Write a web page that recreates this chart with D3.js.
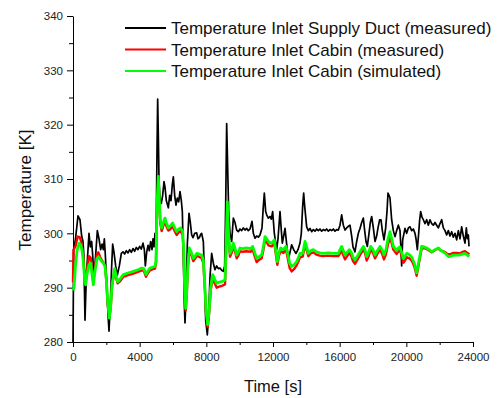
<!DOCTYPE html>
<html>
<head>
<meta charset="utf-8">
<script src="https://cdn.jsdelivr.net/npm/d3@7"></script>
<style>
  body { margin: 0; background: #fff; }
  svg { display: block; font-family: "Liberation Sans", Arial, sans-serif; }
</style>
</head>
<body>
<div id="chart"></div>
<script>
// [time s, temperature K]
const ductMeasured = [
  [0,280],[40,297],[150,299],[300,303.2],[420,302.5],[520,299.5],[600,298.5],[650,296],[720,284],[800,292],
  [900,297],[960,300],[1040,297.5],[1120,298.5],[1180,296],[1260,292],[1360,296],[1460,300.5],[1560,299],[1660,297],
  [1740,298],[1820,297],[1880,299],[1940,296],[2020,291],[2100,285],[2160,282],[2240,287],[2320,294],[2380,298],
  [2460,296.5],[2560,294],[2660,292.3],[2780,294],[2900,296.3],[3000,296.6],[3100,296.2],[3200,296.8],[3300,296.4],[3400,297],
  [3500,296.5],[3600,297.2],[3700,296.7],[3800,297.4],[3900,297],[4000,297.6],[4100,297.1],[4200,298.2],[4280,297],[4340,294],
  [4420,296.5],[4500,297.8],[4580,296.8],[4660,298.5],[4740,297],[4800,299],[4860,297.5],[4920,300],[4980,298],[5040,315],
  [5080,324.7],[5120,318],[5160,310],[5220,306],[5300,305.5],[5380,307],[5460,309.5],[5520,308.5],[5600,306],[5720,304.7],
  [5800,307],[5880,306],[5960,309],[6020,310.4],[6100,307],[6180,305.2],[6260,306.5],[6340,305.8],[6420,307.7],[6500,306],
  [6560,304],[6620,296],[6680,287],[6720,283.5],[6780,288],[6860,298],[6960,303.7],[7040,302],[7120,299.7],[7200,299.2],
  [7300,300],[7420,300.1],[7500,299],[7580,299.2],[7660,299.8],[7720,300],[7820,298.5],[7880,293],[7960,284],[8060,281.3],
  [8140,285],[8220,292],[8320,296.3],[8420,294.5],[8520,293.3],[8620,294],[8720,293.5],[8820,293.6],[8920,293.2],[9020,293],
  [9100,294],[9160,305],[9220,320.2],[9280,312],[9340,304],[9420,300],[9520,298.5],[9620,302.8],[9720,302],[9820,300.6],
  [9920,300.3],[10020,300.8],[10120,300.5],[10220,301],[10320,300.6],[10420,300.9],[10520,300.5],[10620,300.8],[10740,302.2],[10820,300],
  [10920,299.1],[11020,299.5],[11120,299.3],[11220,299.7],[11340,301],[11420,305],[11480,307.4],[11560,304],[11620,303.4],[11720,302.8],
  [11820,303.1],[11900,302.6],[11980,304],[12080,300],[12220,297],[12300,299],[12420,304],[12500,300.5],[12560,298.2],[12640,299.5],
  [12720,300.9],[12820,298],[12920,295.1],[13020,296.5],[13120,297.9],[13240,297],[13380,296.3],[13500,297],[13620,298.2],[13700,300],
  [13780,305],[13840,307.4],[13900,305],[14020,301.2],[14120,300.5],[14220,300.9],[14320,300.3],[14420,300.7],[14520,300.4],[14620,300.8],
  [14720,300.5],[14820,300.8],[14920,300.4],[15020,300.7],[15120,300.5],[15220,300.8],[15320,300.4],[15420,300.7],[15520,300.5],[15620,300.8],
  [15720,300.4],[15820,300.7],[15920,300.6],[16020,301.5],[16120,303.4],[16220,301.5],[16320,300.6],[16420,301],[16520,301.3],[16620,301.5],
  [16720,299.5],[16800,297.5],[16920,296.6],[17020,298.5],[17120,300],[17220,300.9],[17320,302],[17420,302.8],[17500,300.5],[17580,298.5],
  [17660,297.6],[17760,300],[17840,302],[17920,303.1],[18020,301],[18120,298.5],[18220,299.5],[18300,301],[18400,302.5],[18480,302.5],
  [18560,300.5],[18660,298.8],[18760,301],[18840,304],[18900,307.4],[18960,307],[19020,306.5],[19120,302.5],[19220,300.5],[19320,299.4],
  [19420,300.5],[19520,301.5],[19620,300.5],[19680,297],[19720,294],[19780,298.8],[19860,300],[19920,300.9],[20020,300],[20120,301],
  [20220,301.2],[20320,300.5],[20420,300.8],[20520,300],[20580,299],[20660,297],[20740,300],[20800,302.5],[20860,304],[20940,303],
  [21020,302.5],[21120,301.8],[21220,302.5],[21320,301.5],[21420,302.5],[21520,301.8],[21620,301.5],[21720,302],[21820,301.5],[21920,301],
  [22020,301.8],[22120,302.5],[22220,301],[22320,300.5],[22420,299.7],[22520,300.5],[22620,299.5],[22720,300.3],[22820,299.3],[22920,300],
  [23020,298.8],[23120,300.5],[23220,299],[23320,301.2],[23420,299.5],[23520,298.2],[23600,301],[23660,299],[23720,299.7],[23760,297.6]
];

const cabinMeasured = [
  [0,291],[30,297],[150,297.6],[280,299.4],[400,299.3],[480,298.6],[560,297],[620,295.6],[700,292],[760,290.8],
  [840,293.4],[960,295.8],[1060,295.5],[1140,293],[1220,291],[1320,293.6],[1440,296.2],[1520,296.5],[1620,295.7],[1720,295.1],
  [1820,294.6],[1920,294],[2000,291.3],[2080,287],[2180,284.6],[2260,286.2],[2340,290.2],[2420,291.7],[2500,293.1],[2580,291.9],
  [2680,290.8],[2800,291.1],[3020,292],[3300,292.3],[3620,292.6],[3900,292.9],[4120,293.2],[4250,293.1],[4380,292],[4480,292.6],
  [4620,293.2],[4800,293.4],[4920,293.5],[4980,294.5],[5040,304],[5120,309.5],[5180,305],[5240,301.8],[5320,300.4],[5420,301.4],
  [5520,302.2],[5620,301.2],[5720,300.5],[5820,300.7],[5980,301.3],[6100,300.4],[6220,299.7],[6340,300.2],[6460,300.4],[6580,299.7],
  [6640,296.5],[6700,289.5],[6760,285.8],[6820,288.5],[6900,294],[6980,296.8],[7100,296],[7220,294.9],[7320,295.3],[7420,295.8],
  [7560,295.7],[7720,295.4],[7820,294.5],[7900,290.5],[7980,285.5],[8080,282.8],[8160,285],[8260,289.4],[8380,291.7],[8500,290.8],
  [8620,290],[8760,290.2],[8920,290.3],[9120,290.6],[9180,296],[9260,304.5],[9330,299.4],[9420,295.7],[9520,296.4],[9620,297.6],
  [9720,296.7],[9820,295.4],[9920,295.9],[10020,296.7],[10200,296.6],[10400,296.7],[10660,296.6],[10780,297],[10900,295.8],[11020,294.7],
  [11160,295.1],[11320,295.4],[11420,296.9],[11520,298.8],[11620,298.4],[11720,297.8],[11820,297.7],[11920,297.6],[12080,298.2],[12160,296.4],
  [12260,294.2],[12360,295.9],[12460,296.7],[12620,296.4],[12780,297],[12900,295.2],[13000,293.6],[13120,293],[13260,293.4],[13420,294.1],
  [13520,294.8],[13620,295.6],[13780,295.7],[13920,297.8],[14020,296.9],[14120,295.8],[14260,296.3],[14420,296.5],[14600,296.1],[14800,295.9],
  [15000,295.8],[15300,295.9],[15600,295.8],[15920,295.8],[16020,296.3],[16120,296.8],[16220,296],[16320,295.2],[16450,295.8],[16580,296.4],
  [16700,295.8],[16800,294.9],[16920,294.4],[17060,295.1],[17220,296],[17420,297],[17520,296.4],[17620,295],[17740,295.8],[17860,297],
  [18000,296.4],[18120,295.4],[18260,296.2],[18420,297],[18540,296.3],[18660,295.2],[18780,296.2],[18900,298],[19020,299.2],[19120,298.2],
  [19220,297],[19420,296.2],[19520,296.7],[19620,296.9],[19720,295.8],[19820,294.6],[19920,295],[20020,295.6],[20120,295.5],[20220,295.3],
  [20340,294.9],[20480,293.9],[20620,292.2],[20760,294.6],[20920,297.2],[21080,297.3],[21220,297.1],[21380,296.8],[21520,296.5],[21720,296.9],
  [21920,297.2],[22080,296.8],[22220,296.7],[22380,296.4],[22520,296.1],[22680,296.2],[22820,296.4],[23020,296.4],[23220,296.3],[23380,296.6],
  [23520,296.7],[23660,296.4],[23780,296.1]
];

const cabinSimulated = [
  [0,289.5],[60,290],[150,294],[250,297],[380,298.2],[480,297.8],[560,296.5],[620,294.8],[700,291.5],[760,290.5],
  [840,292.5],[960,294.2],[1060,294.5],[1140,292.5],[1220,290.5],[1320,293],[1440,295.3],[1520,295.7],[1620,295.3],[1720,294.8],
  [1820,294.5],[1920,293.9],[2000,291.5],[2080,287.5],[2180,284.4],[2260,286.5],[2340,290.5],[2420,292],[2500,293.5],[2580,292.3],
  [2680,291.1],[2800,291.5],[3020,292.4],[3300,292.7],[3620,293],[3900,293.3],[4120,293.6],[4250,293.5],[4380,292.4],[4480,293],
  [4620,293.6],[4800,293.8],[4920,293.9],[4980,295],[5040,305],[5120,310.5],[5180,306],[5240,302.5],[5320,301],[5420,302],
  [5520,302.8],[5620,301.8],[5720,301],[5820,301.3],[5980,301.9],[6100,301],[6220,300.3],[6340,300.8],[6460,301],[6580,300.3],
  [6640,297],[6700,290],[6760,286.2],[6820,289],[6900,294.5],[6980,297.3],[7100,296.5],[7220,295.4],[7320,295.8],[7420,296.3],
  [7560,296.2],[7720,296],[7820,295.1],[7900,291],[7980,286],[8080,283.2],[8160,285.5],[8260,290],[8380,292.4],[8500,291.6],
  [8620,290.8],[8760,291],[8920,291.1],[9120,291.4],[9180,297],[9260,305.8],[9330,300],[9420,296.3],[9520,297],[9620,298.2],
  [9720,297.3],[9820,296],[9920,296.5],[10020,297.3],[10200,297.2],[10400,297.3],[10660,297.2],[10780,297.6],[10900,296.5],[11020,295.4],
  [11160,295.7],[11320,296],[11420,297.5],[11520,299.4],[11620,299],[11720,298.5],[11820,298.3],[11920,298.2],[12080,298.8],[12160,297],
  [12260,294.8],[12360,296.5],[12460,297.3],[12620,297],[12780,297.6],[12900,296],[13000,294.5],[13120,293.9],[13260,294.2],[13420,294.8],
  [13520,295.5],[13620,296.3],[13780,296.3],[13920,298.5],[14020,297.5],[14120,296.3],[14260,296.8],[14420,297],[14600,296.6],[14800,296.4],
  [15000,296.3],[15300,296.4],[15600,296.3],[15920,296.3],[16020,297],[16120,297.6],[16220,296.8],[16320,296],[16450,296.5],[16580,297],
  [16700,296.5],[16800,295.6],[16920,295.1],[17060,295.8],[17220,296.6],[17420,297.6],[17520,297],[17620,295.7],[17740,296.5],[17860,297.6],
  [18000,297],[18120,296],[18260,296.8],[18420,297.6],[18540,297],[18660,296],[18780,297],[18900,299],[19020,300.3],[19120,299],
  [19220,297.6],[19420,296.8],[19520,297.3],[19620,297.5],[19720,296.5],[19820,295.4],[19920,295.8],[20020,296.3],[20120,296.2],[20220,296],
  [20340,295.5],[20480,294.5],[20620,292.7],[20760,295],[20920,297.6],[21080,297.5],[21220,297.3],[21380,297],[21520,296.6],[21720,297],
  [21920,297.3],[22080,296.8],[22220,296.6],[22380,296.2],[22520,295.7],[22680,295.8],[22820,296],[23020,296],[23220,296],[23380,296.2],
  [23520,296.3],[23660,296],[23780,295.7]
];

const seriesNames = [
  "Temperature Inlet Supply Duct (measured)",
  "Temperature Inlet Cabin (measured)",
  "Temperature Inlet Cabin (simulated)"
];
const xTicks = [0, 4000, 8000, 12000, 16000, 20000, 24000];
const yTicks = [280, 290, 300, 310, 320, 330, 340];

const width = 499, height = 398;
const colors = ["#000000", "#ff0000", "#00ff00"];
const widths = [1.7, 2.4, 2.8];

const svg = d3.select("#chart").append("svg")
  .attr("width", width)
  .attr("height", height);

const x = d3.scaleLinear().domain([0, 24000]).range([73, 473]);
const y = d3.scaleLinear().domain([280, 340]).range([342, 16]);

// minor ticks first, majors on top
svg.append("g")
  .attr("transform", "translate(0,342)")
  .call(d3.axisBottom(x).tickValues(d3.range(2000, 24000, 4000)).tickSize(3).tickFormat(""))
  .call(g => g.select(".domain").remove());
svg.append("g")
  .attr("transform", "translate(73,0)")
  .call(d3.axisLeft(y).tickValues(d3.range(285, 340, 10)).tickSize(4).tickFormat(""))
  .call(g => g.select(".domain").remove());

svg.append("g")
  .attr("transform", "translate(0,342)")
  .call(d3.axisBottom(x).tickValues(xTicks).tickFormat(d3.format("d"))
    .tickSize(5).tickSizeOuter(0).tickPadding(6));
svg.append("g")
  .attr("transform", "translate(73,0)")
  .call(d3.axisLeft(y).tickValues(yTicks).tickFormat(d3.format("d"))
    .tickSize(6).tickSizeOuter(0).tickPadding(4));

svg.selectAll(".tick text")
  .style("font-size", "11.5px")
  .style("font-family", "Liberation Sans, Arial, sans-serif")
  .attr("fill", "#222");

const line = d3.line()
  .x(d => x(d[0]))
  .y(d => y(d[1]));

[ductMeasured, cabinMeasured, cabinSimulated].forEach((data, i) => {
  svg.append("path")
    .datum(data)
    .attr("fill", "none")
    .attr("stroke", colors[i])
    .attr("stroke-width", widths[i])
    .attr("stroke-linejoin", "round")
    .attr("d", line);
});

// legend
const legend = svg.append("g");
seriesNames.forEach((name, i) => {
  const ly = 28 + i * 21.5;
  legend.append("line")
    .attr("x1", 125).attr("x2", 166)
    .attr("y1", ly).attr("y2", ly)
    .attr("stroke", colors[i])
    .attr("stroke-width", 2);
  legend.append("text")
    .attr("x", 171)
    .attr("y", ly + 6)
    .style("font-size", "17px")
    .attr("fill", "#111")
    .text(name);
});

// axis titles
svg.append("text")
  .attr("x", 273)
  .attr("y", 392)
  .attr("text-anchor", "middle")
  .style("font-size", "16.5px")
  .attr("fill", "#111")
  .text("Time [s]");
svg.append("text")
  .attr("transform", "translate(31,190) rotate(-90)")
  .attr("text-anchor", "middle")
  .style("font-size", "17px")
  .attr("fill", "#111")
  .text("Temperature [K]");
</script>
</body>
</html>
